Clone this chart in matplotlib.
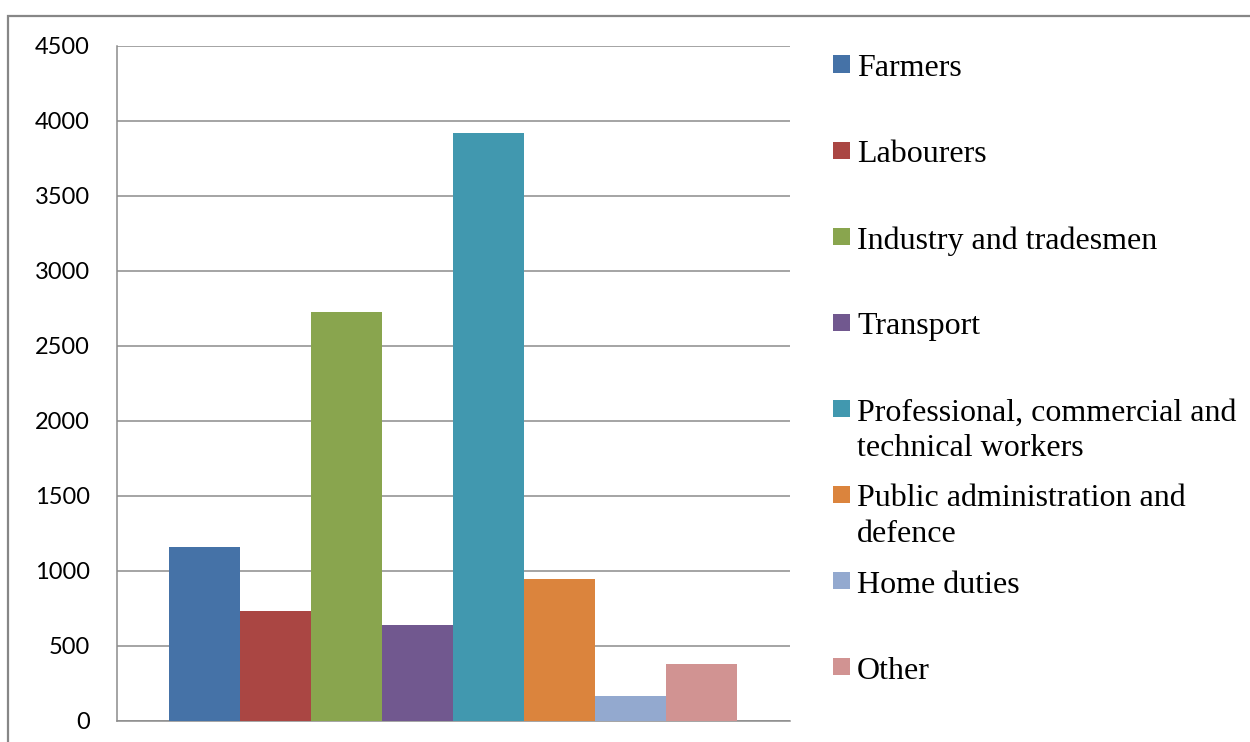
import matplotlib.pyplot as plt
from matplotlib.patches import Rectangle

# categories and values
labels = ["Farmers", "Labourers", "Industry and tradesmen", "Transport",
          "Professional, commercial and\ntechnical workers",
          "Public administration and\ndefence", "Home duties", "Other"]
values = [1158, 732, 2723, 637, 3917, 943, 163, 377]
colors = ["#4572A7", "#AA4643", "#89A54E", "#71588F",
          "#4198AF", "#DB843D", "#93A9CF", "#D19392"]
yticks = [0, 500, 1000, 1500, 2000, 2500, 3000, 3500, 4000, 4500]

W, H = 1250, 742
fig = plt.figure(figsize=(W / 100, H / 100), dpi=100)
fig.patch.set_facecolor("white")

# outer chart frame (runs off the right and bottom edges)
fig.patches.append(Rectangle((8 / W, -0.05), 1.1, 1 - 16 / H + 0.05,
                             transform=fig.transFigure, fill=False,
                             edgecolor="#878787", linewidth=1.6))

ax = fig.add_axes([116.5 / W, 1 - 720.5 / H, (790 - 116.5) / W, (720.5 - 46) / H])
x = list(range(len(values)))
ax.bar(x, values, width=1.0, color=colors, linewidth=0, zorder=3)
ax.set_xlim(-0.5 - 0.74, len(values) - 0.5 + 0.74)
ax.set_ylim(0, 4500)
ax.set_yticks(yticks)
ax.set_xticks([])
ax.grid(axis="y", color="#8c8c8c", linewidth=1.1, zorder=0)
for s in ["top", "right"]:
    ax.spines[s].set_visible(False)
for s in ["left", "bottom"]:
    ax.spines[s].set_color("#8c8c8c")
    ax.spines[s].set_linewidth(1.1)
ax.tick_params(axis="y", length=0, pad=19)
for t in ax.get_yticklabels():
    t.set_fontfamily("Lato")
    t.set_fontsize(17)

# legend drawn by hand, Excel style
for i, (lab, c) in enumerate(zip(labels, colors)):
    yc = 64 + i * 86.1
    fig.patches.append(Rectangle((833 / W, 1 - (yc + 8.5) / H), 17 / W, 17 / H,
                                 transform=fig.transFigure, facecolor=c,
                                 edgecolor="none"))
    fig.text(857 / W, 1 - (yc - 10) / H, lab, fontfamily="Liberation Serif",
             fontsize=23, va="top", ha="left", linespacing=1.3)

fig.savefig("out.png", dpi=100)
